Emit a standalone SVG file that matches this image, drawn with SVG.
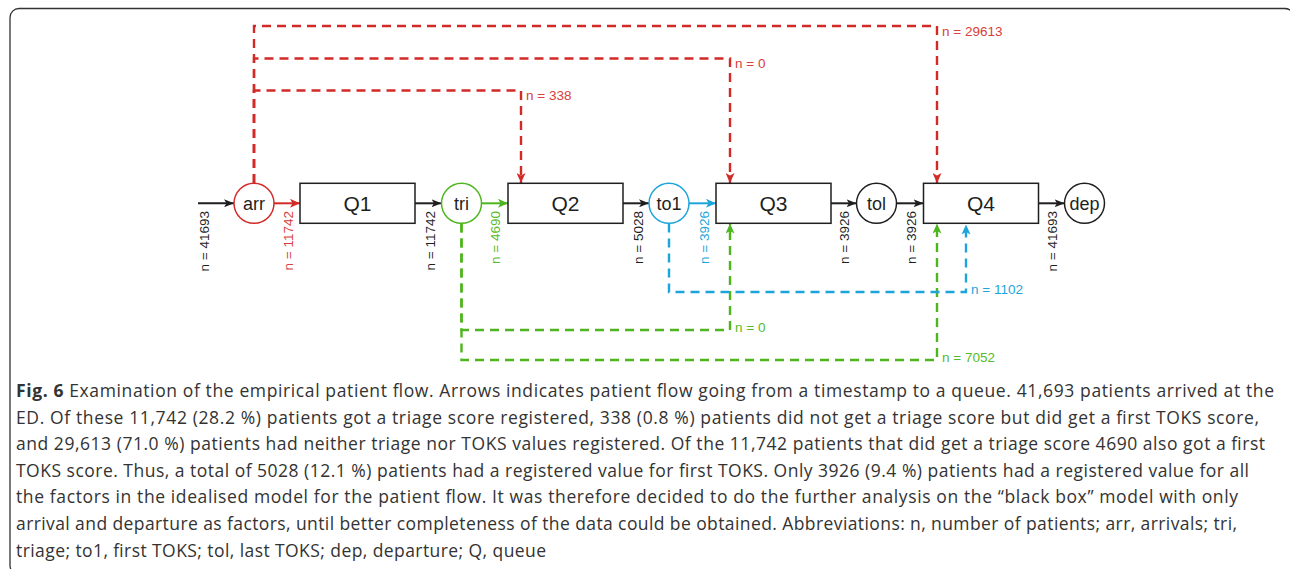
<svg xmlns="http://www.w3.org/2000/svg" width="1290" height="569" viewBox="0 0 1290 569">
<defs>
<style>
.node{fill:#fff;stroke:#1f1f1f;stroke-width:1.5}
.nl{font-family:"Liberation Sans",Arial,sans-serif;font-size:18px;fill:#1f1f1f;text-anchor:middle}
.ql{font-family:"Liberation Sans",Arial,sans-serif;font-size:21px;fill:#1f1f1f;text-anchor:middle}
.solid{fill:none;stroke:#1f1f1f;stroke-width:2}
.red{fill:none;stroke:#d22b27;stroke-width:2.4;stroke-dasharray:9 6}
.green{fill:none;stroke:#4db51d;stroke-width:2.4;stroke-dasharray:9 6}
.blue{fill:none;stroke:#1da5db;stroke-width:2.4;stroke-dasharray:9 6}
.lab{font-family:"Liberation Sans",Arial,sans-serif;font-size:13.5px}
.rot{text-anchor:end}
.cap{font-family:"Open Sans","Noto Sans",sans-serif;font-size:17.5px;fill:#333}
</style>
<marker id="ak" markerUnits="userSpaceOnUse" markerWidth="10" markerHeight="8" refX="10" refY="4" orient="auto"><path d="M0,0 L10,4 L0,8 L2.5,4 z" fill="#1f1f1f"/></marker>
<marker id="ar" markerUnits="userSpaceOnUse" markerWidth="10" markerHeight="9" refX="10" refY="4.5" orient="auto"><path d="M0,0 L10,4.5 L0,9 L2.5,4.5 z" fill="#d22b27"/></marker>
<marker id="ag" markerUnits="userSpaceOnUse" markerWidth="10" markerHeight="9" refX="10" refY="4.5" orient="auto"><path d="M0,0 L10,4.5 L0,9 L2.5,4.5 z" fill="#4db51d"/></marker>
<marker id="ab" markerUnits="userSpaceOnUse" markerWidth="10" markerHeight="9" refX="10" refY="4.5" orient="auto"><path d="M0,0 L10,4.5 L0,9 L2.5,4.5 z" fill="#1da5db"/></marker>
</defs>
<rect x="0" y="0" width="1290" height="569" fill="#fff"/>
<rect x="10" y="8.5" width="1284" height="566" rx="9" ry="9" fill="none" stroke="#333" stroke-width="1.3"/>

<g id="connectors">
<path class="solid" d="M198,203.3 H234" marker-end="url(#ak)"/>
<path class="solid" d="M274,203.3 H300" style="stroke:#d22b27" marker-end="url(#ar)"/>
<path class="solid" d="M415,203.3 H441.5" marker-end="url(#ak)"/>
<path class="solid" d="M481.5,203.3 H508" style="stroke:#4db51d" marker-end="url(#ag)"/>
<path class="solid" d="M623,203.3 H649" marker-end="url(#ak)"/>
<path class="solid" d="M689,203.3 H716" style="stroke:#1da5db" marker-end="url(#ab)"/>
<path class="solid" d="M831,203.3 H856.5" marker-end="url(#ak)"/>
<path class="solid" d="M896.5,203.3 H923.5" marker-end="url(#ak)"/>
<path class="solid" d="M1038.5,203.3 H1064.5" marker-end="url(#ak)"/>

<path class="red" d="M254,183 V26 H937 V183" marker-end="url(#ar)"/>
<path class="red" d="M254,183 V58.5 H730 V183" marker-end="url(#ar)"/>
<path class="red" d="M254,183 V90.5 H521 V183" marker-end="url(#ar)"/>
<path class="green" d="M461.5,223.5 V330 H730 V223.5" marker-end="url(#ag)"/>
<path class="green" d="M461.5,223.5 V360 H937 V223.5" marker-end="url(#ag)"/>
<path class="blue" d="M669,223.5 V292 H966 V224.5" marker-end="url(#ab)"/>

<g class="lab">
<text x="942" y="35.5" fill="#d8403a">n = 29613</text>
<text x="735" y="67.5" fill="#d8403a">n = 0</text>
<text x="526" y="99.5" fill="#d8403a">n = 338</text>
<text x="971" y="293.5" fill="#1da5db">n = 1102</text>
<text x="735" y="332" fill="#56bb28">n = 0</text>
<text x="942" y="362" fill="#56bb28">n = 7052</text>
<text class="rot" transform="translate(209.3,211) rotate(-90)" fill="#1f1f1f">n = 41693</text>
<text class="rot" transform="translate(293,211) rotate(-90)" fill="#d8403a">n = 11742</text>
<text class="rot" transform="translate(435,211) rotate(-90)" fill="#1f1f1f">n = 11742</text>
<text class="rot" transform="translate(500,211) rotate(-90)" fill="#56bb28">n = 4690</text>
<text class="rot" transform="translate(642.7,211) rotate(-90)" fill="#1f1f1f">n = 5028</text>
<text class="rot" transform="translate(709,211) rotate(-90)" fill="#1da5db">n = 3926</text>
<text class="rot" transform="translate(849,211) rotate(-90)" fill="#1f1f1f">n = 3926</text>
<text class="rot" transform="translate(916,211) rotate(-90)" fill="#1f1f1f">n = 3926</text>
<text class="rot" transform="translate(1056.5,211) rotate(-90)" fill="#1f1f1f">n = 41693</text>
</g>
</g>

<g id="node-arr"><circle class="node" cx="254" cy="203.3" r="20" style="stroke:#d22b27"/><text class="nl" x="254" y="209.5">arr</text></g>
<g id="node-Q1"><rect class="node" x="300" y="183.3" width="115" height="40"/><text class="ql" x="357.5" y="210.8">Q1</text></g>
<g id="node-tri"><circle class="node" cx="461.5" cy="203.3" r="20" style="stroke:#4db51d"/><text class="nl" x="461.5" y="209.5">tri</text></g>
<g id="node-Q2"><rect class="node" x="508" y="183.3" width="115" height="40"/><text class="ql" x="565.5" y="210.8">Q2</text></g>
<g id="node-to1"><circle class="node" cx="669" cy="203.3" r="20" style="stroke:#1da5db"/><text class="nl" x="669" y="209.5">to1</text></g>
<g id="node-Q3"><rect class="node" x="716" y="183.3" width="115" height="40"/><text class="ql" x="773.5" y="210.8">Q3</text></g>
<g id="node-tol"><circle class="node" cx="876.5" cy="203.3" r="20"/><text class="nl" x="876.5" y="209.5">tol</text></g>
<g id="node-Q4"><rect class="node" x="923.5" y="183.3" width="115" height="40"/><text class="ql" x="981" y="210.8">Q4</text></g>
<g id="node-dep"><circle class="node" cx="1084.5" cy="203.3" r="20"/><text class="nl" x="1084.5" y="209.5">dep</text></g>

<g id="caption" class="cap">
<text x="16" y="397" textLength="1258"><tspan font-weight="bold">Fig. 6</tspan> Examination of the empirical patient flow. Arrows indicates patient flow going from a timestamp to a queue. 41,693 patients arrived at the</text>
<text x="16" y="423.6" textLength="1243">ED. Of these 11,742 (28.2 %) patients got a triage score registered, 338 (0.8 %) patients did not get a triage score but did get a first TOKS score,</text>
<text x="16" y="450.2" textLength="1249">and 29,613 (71.0 %) patients had neither triage nor TOKS values registered. Of the 11,742 patients that did get a triage score 4690 also got a first</text>
<text x="16" y="476.8" textLength="1233">TOKS score. Thus, a total of 5028 (12.1 %) patients had a registered value for first TOKS. Only 3926 (9.4 %) patients had a registered value for all</text>
<text x="16" y="503.4" textLength="1222">the factors in the idealised model for the patient flow. It was therefore decided to do the further analysis on the “black box” model with only</text>
<text x="16" y="530" textLength="1221">arrival and departure as factors, until better completeness of the data could be obtained. Abbreviations: n, number of patients; arr, arrivals; tri,</text>
<text x="16" y="556.6" textLength="530">triage; to1, first TOKS; tol, last TOKS; dep, departure; Q, queue</text>
</g>
</svg>
